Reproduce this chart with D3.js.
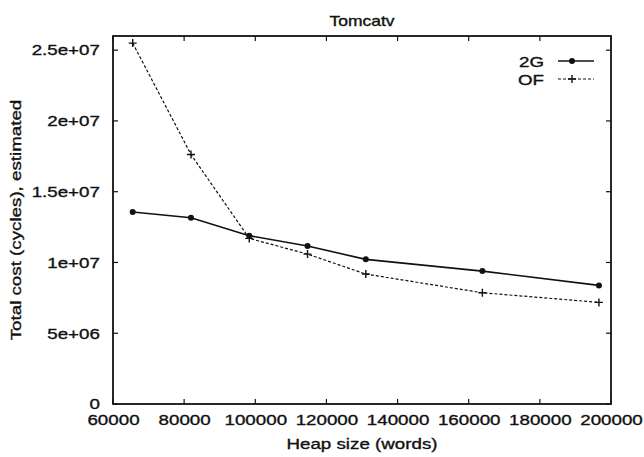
<!DOCTYPE html>
<html>
<head>
<meta charset="utf-8">
<script src="https://cdn.jsdelivr.net/npm/d3@7"></script>
<style>
  body { margin: 0; background: #fff; }
  svg text { font-family: "Liberation Sans", Arial, sans-serif; fill: #111; stroke: #111; stroke-width: 0.35px; }
</style>
</head>
<body>
<script>
'use strict';

// heap sizes (words)
let heapSizes = [65536, 81920, 98304, 114688, 131072, 163840, 196608];

// estimated total cost per collector
let cost2G = [13.56e6, 13.16e6, 11.89e6, 11.16e6, 10.22e6, 9.39e6, 8.38e6];
let costOF = [25.5e6, 17.63e6, 11.7e6, 10.59e6, 9.18e6, 7.86e6, 7.18e6];

let seriesNames = ["2G", "OF"];

let xTicks = [60000, 80000, 100000, 120000, 140000, 160000, 180000, 200000];
let yTicks = [0, 5e6, 1e7, 1.5e7, 2e7, 2.5e7];
let yTickLabels = ["0", "5e+06", "1e+07", "1.5e+07", "2e+07", "2.5e+07"];

// plot frame
let margin = { top: 36, left: 113, bottom: 53, right: 33 };
let W = 644, H = 457;
let width = W - margin.left - margin.right,
  height = H - margin.top - margin.bottom;

// text is a bit wider than tall in the scan
let stretch = "scale(1.25,1)";

let svg = d3.select("body").append("svg")
  .attr("width", W)
  .attr("height", H);

let x = d3.scaleLinear().domain([60000, 200000]).range([margin.left, margin.left + width]);
let y = d3.scaleLinear().domain([0, 2.6e7]).range([margin.top + height, margin.top]);

// mirrored inward ticks on all sides
function tickLines(g, scale, ticks, horiz, pos, dir) {
  g.selectAll(null).data(ticks).enter().append("line")
    .attr("x1", d => horiz ? scale(d) : pos)
    .attr("x2", d => horiz ? scale(d) : pos + dir * 5)
    .attr("y1", d => horiz ? pos : scale(d))
    .attr("y2", d => horiz ? pos + dir * 5 : scale(d))
    .attr("stroke", "#111")
    .attr("stroke-width", 1.2);
}

let frame = svg.append("g");
tickLines(frame, x, xTicks, true, margin.top + height, -1);
tickLines(frame, x, xTicks, true, margin.top, 1);
tickLines(frame, y, yTicks, false, margin.left, 1);
tickLines(frame, y, yTicks, false, margin.left + width, -1);

frame.append("rect")
  .attr("x", margin.left)
  .attr("y", margin.top)
  .attr("width", width)
  .attr("height", height)
  .attr("fill", "none")
  .attr("stroke", "#111")
  .attr("stroke-width", 1.8);

// x tick labels
let xAxis = d3.axisBottom(x).tickValues(xTicks).tickSize(0).tickPadding(0).tickFormat(d3.format("d"));
let gx = svg.append("g")
  .attr("transform", "translate(0," + (margin.top + height) + ")")
  .call(xAxis);
gx.select(".domain").remove();
gx.selectAll("text")
  .attr("y", 0)
  .attr("dy", "1.4em")
  .style("font-size", "15px")
  .attr("transform", stretch);

// y tick labels
let yAxis = d3.axisLeft(y).tickValues(yTicks).tickSize(0).tickPadding(0)
  .tickFormat((d, i) => yTickLabels[i]);
let gy = svg.append("g")
  .attr("transform", "translate(" + margin.left + ",0)")
  .call(yAxis);
gy.select(".domain").remove();
gy.selectAll("text")
  .attr("x", -10.5)
  .style("font-size", "15px")
  .attr("transform", stretch);

// title and axis labels
svg.append("text")
  .attr("transform", "translate(" + (margin.left + width / 2) + ",26) " + stretch)
  .attr("text-anchor", "middle")
  .style("font-size", "14px")
  .text("Tomcatv");

svg.append("text")
  .attr("transform", "translate(" + (margin.left + width / 2) + ",449) " + stretch)
  .attr("text-anchor", "middle")
  .style("font-size", "15px")
  .text("Heap size (words)");

svg.append("text")
  .attr("transform", "translate(21," + (margin.top + height / 2) + ") rotate(-90) " + stretch)
  .attr("text-anchor", "middle")
  .style("font-size", "15px")
  .text("Total cost (cycles), estimated");

// lines
let series = [
  { name: seriesNames[0], values: cost2G, dash: null, width: 1.6 },
  { name: seriesNames[1], values: costOF, dash: "3,2", width: 1.2 }
];

let line = d3.line()
  .x((d, i) => x(heapSizes[i]))
  .y(d => y(d));

series.forEach(s => {
  svg.append("path")
    .datum(s.values)
    .attr("d", line)
    .attr("fill", "none")
    .attr("stroke", "#111")
    .attr("stroke-width", s.width)
    .attr("stroke-dasharray", s.dash);
});

// markers
function drawMarker(g, name, cx, cy) {
  if (name === "2G") {
    g.append("circle").attr("cx", cx).attr("cy", cy).attr("r", 3).attr("fill", "#111");
  } else {
    g.append("path")
      .attr("d", "M" + (cx - 4) + "," + cy + "H" + (cx + 4) + "M" + cx + "," + (cy - 4) + "V" + (cy + 4))
      .attr("stroke", "#111").attr("stroke-width", 1.4);
  }
}

let marks = svg.append("g");
series.forEach(s => {
  s.values.forEach((v, i) => drawMarker(marks, s.name, x(heapSizes[i]), y(v)));
});

// legend
let legend = svg.append("g");
series.forEach((s, i) => {
  let ly = 61 + i * 18;
  legend.append("text")
    .attr("transform", "translate(544," + (ly + 5.5) + ") " + stretch)
    .attr("text-anchor", "end")
    .style("font-size", "15px")
    .text(s.name);
  legend.append("line")
    .attr("x1", 558).attr("x2", 594)
    .attr("y1", ly).attr("y2", ly)
    .attr("stroke", "#111")
    .attr("stroke-width", s.width)
    .attr("stroke-dasharray", s.dash);
  drawMarker(legend, s.name, 572, ly);
});
</script>
</body>
</html>
